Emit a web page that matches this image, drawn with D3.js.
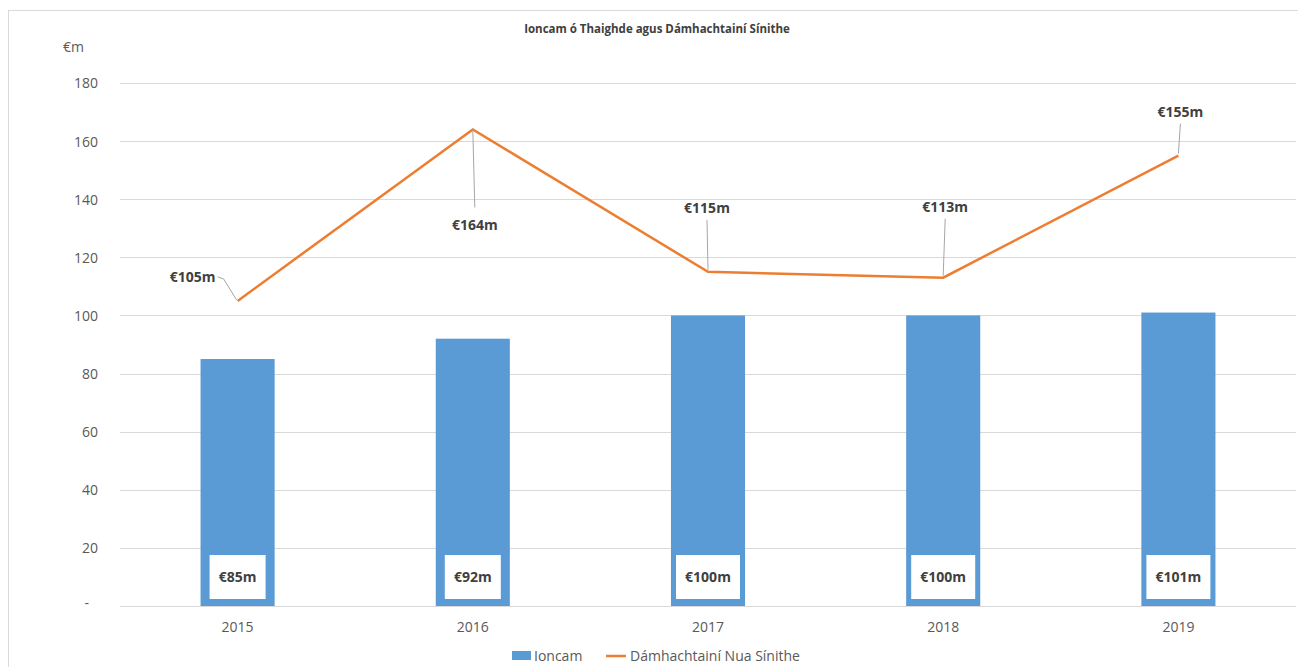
<!DOCTYPE html>
<html>
  <head>
    <meta charset="utf-8">
    <script src="https://d3js.org/d3.v7.min.js"></script>
    <style>
      body { margin: 0; background: #fff; }
      text { font-family: "Open Sans", "Noto Sans", sans-serif; }
    </style>
  </head>
  <body>
    <div id="my_dataviz"></div>
    <script>
    // chart data
    var years = ["2015", "2016", "2017", "2018", "2019"];
    var ioncam = [85, 92, 100, 100, 101];
    var damhachtainí = [105, 164, 115, 113, 155];
    var yTicks = [0, 20, 40, 60, 80, 100, 120, 140, 160, 180];

    // where each line label sits relative to its point (dx, dy)
    var lineLabelPos = [[-48, -24], [2, 96], [-1, -64], [2, -71], [2, -44]];

    var W = 1298, H = 667;
    var margin = {top: 83, right: 2, bottom: 61, left: 120};
    var width = W - margin.left - margin.right,
        height = 606 - margin.top;

    var svg = d3.select("#my_dataviz")
      .append("svg")
      .attr("width", W)
      .attr("height", H);

    // outer frame
    svg.append("rect")
      .attr("x", 8.5).attr("y", 10.5)
      .attr("width", W).attr("height", H)
      .attr("fill", "none")
      .attr("stroke", "#d9d9d9");

    svg.append("text")
      .attr("x", 657).attr("y", 33)
      .attr("text-anchor", "middle")
      .attr("font-size", 11.5)
      .attr("font-weight", "bold")
      .attr("fill", "#404040")
      .text("Ioncam ó Thaighde agus Dámhachtainí Sínithe");

    var g = svg.append("g")
      .attr("transform", "translate(" + margin.left + "," + margin.top + ")");

    var x = d3.scaleBand()
      .domain(years)
      .range([0, width])
      .paddingInner(0.685)
      .paddingOuter(0.3425);

    var y = d3.scaleLinear()
      .domain([0, 180])
      .range([height, 0]);

    // gridlines
    g.append("g")
      .selectAll("line")
      .data(yTicks)
      .enter().append("line")
      .attr("x1", 0).attr("x2", width)
      .attr("y1", function (d) { return Math.round(y(d)) + 0.5; })
      .attr("y2", function (d) { return Math.round(y(d)) + 0.5; })
      .attr("stroke", "#d9d9d9");

    // y axis labels
    var yAxis = g.append("g")
      .attr("transform", "translate(-19,0)")
      .call(d3.axisLeft(y).tickValues(yTicks).tickSize(0)
        .tickFormat(function (d) { return d === 0 ? "-" : d; }));
    yAxis.select(".domain").remove();
    yAxis.selectAll("text")
      .attr("font-size", 14)
      .attr("fill", "#595959")
      .attr("font-family", "Open Sans, sans-serif")
      .attr("dy", "0.35em");
    yAxis.selectAll(".tick").filter(function (d) { return d === 0; })
      .select("text").attr("dx", "-9").attr("dy", "0.1em");

    svg.append("text")
      .attr("x", 63).attr("y", 52)
      .attr("font-size", 14)
      .attr("fill", "#595959")
      .text("€m");

    // x axis labels
    var xAxis = g.append("g")
      .attr("transform", "translate(0," + height + ")")
      .call(d3.axisBottom(x).tickSize(0).tickPadding(16));
    xAxis.select(".domain").remove();
    xAxis.selectAll("text")
      .attr("font-size", 14)
      .attr("fill", "#595959")
      .attr("font-family", "Open Sans, sans-serif");

    // bars
    g.selectAll(".bar")
      .data(ioncam)
      .enter().append("rect")
      .attr("class", "bar")
      .attr("x", function (d, i) { return x(years[i]); })
      .attr("width", x.bandwidth())
      .attr("y", function (d) { return y(d); })
      .attr("height", function (d) { return height - y(d); })
      .attr("fill", "#5b9bd5");

    // bar labels in white boxes
    var barLab = g.selectAll(".barlab")
      .data(ioncam)
      .enter().append("g")
      .attr("class", "barlab")
      .attr("transform", function (d, i) {
        return "translate(" + (x(years[i]) + x.bandwidth() / 2) + "," + (height - 29) + ")";
      });
    barLab.append("rect")
      .attr("x", function (d) { return d >= 100 ? -32 : -28; })
      .attr("width", function (d) { return d >= 100 ? 64 : 56; })
      .attr("y", -22).attr("height", 44)
      .attr("fill", "#fff");
    barLab.append("text")
      .attr("text-anchor", "middle")
      .attr("dy", "0.35em")
      .attr("font-size", 14)
      .attr("font-weight", "bold")
      .attr("fill", "#404040")
      .text(function (d) { return "€" + d + "m"; });

    // line
    var cx = function (i) { return x(years[i]) + x.bandwidth() / 2; };
    g.append("path")
      .datum(damhachtainí)
      .attr("fill", "none")
      .attr("stroke", "#ed7d31")
      .attr("stroke-width", 2.5)
      .attr("d", d3.line()
        .x(function (d, i) { return cx(i); })
        .y(function (d) { return y(d); }));

    // line labels with leader lines
    damhachtainí.forEach(function (d, i) {
      var px = cx(i), py = y(d);
      var lx = px + lineLabelPos[i][0], ly = py + lineLabelPos[i][1];
      var pts;
      if (i === 0) {
        pts = [[px - 1, py - 1], [px - 14, py - 22], [px - 20, py - 24]];
      } else if (lineLabelPos[i][1] > 0) {
        pts = [[px, py], [lx, ly - 18]];
      } else {
        pts = [[px, py - 2], [lx, ly + 12]];
      }
      g.append("path")
        .attr("d", d3.line()(pts))
        .attr("fill", "none")
        .attr("stroke", "#a6a6a6")
        .attr("stroke-width", 1);
      g.append("text")
        .attr("x", i === 0 ? lx + 26 : lx)
        .attr("y", ly)
        .attr("text-anchor", i === 0 ? "end" : "middle")
        .attr("dy", "0.35em")
        .attr("font-size", 14)
        .attr("font-weight", "bold")
        .attr("fill", "#404040")
        .text("€" + d + "m");
    });

    // legend
    var leg = svg.append("g").attr("transform", "translate(0,656)");
    leg.append("rect")
      .attr("x", 512).attr("y", -5)
      .attr("width", 19).attr("height", 9)
      .attr("fill", "#5b9bd5");
    leg.append("text")
      .attr("x", 534).attr("dy", "0.35em")
      .attr("font-size", 14).attr("fill", "#595959")
      .text("Ioncam");
    leg.append("line")
      .attr("x1", 606).attr("x2", 626)
      .attr("stroke", "#ed7d31").attr("stroke-width", 2.5);
    leg.append("text")
      .attr("x", 630).attr("dy", "0.35em")
      .attr("font-size", 14).attr("fill", "#595959")
      .text("Dámhachtainí Nua Sínithe");
    </script>
  </body>
</html>
